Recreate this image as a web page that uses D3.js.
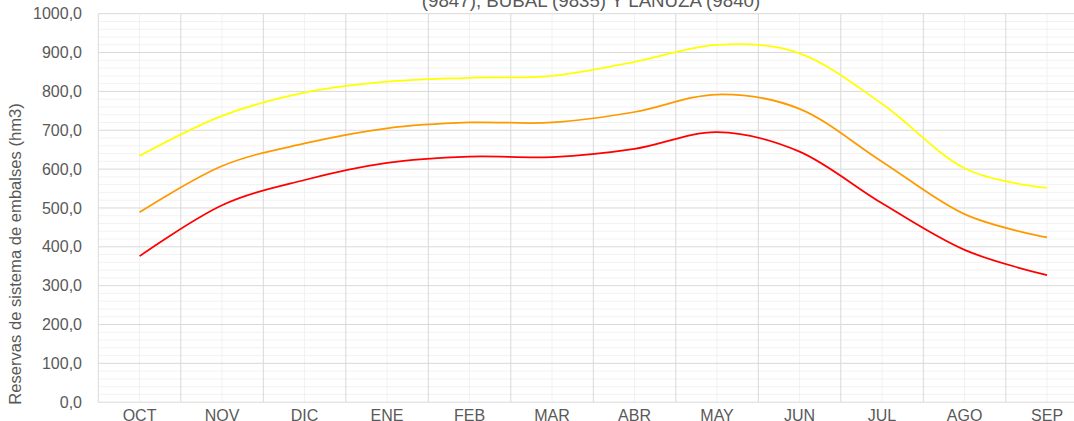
<!DOCTYPE html>
<html>
<head>
<meta charset="utf-8">
<script src="https://cdn.jsdelivr.net/npm/d3@7"></script>
<style>
  body { margin: 0; background: #fff; overflow: hidden; }
  text { font-family: "Liberation Sans", Arial, sans-serif; fill: #595959; }
</style>
</head>
<body>
<div id="chart"></div>
<script>
var meses = ["OCT", "NOV", "DIC", "ENE", "FEB", "MAR", "ABR", "MAY", "JUN", "JUL", "AGO", "SEP"];
var serieAlta = [634, 737, 797, 825, 835, 840, 876, 920, 898, 768, 602, 552];
var serieMedia = [489, 608, 666, 705, 720, 720, 747, 792, 755, 619, 484, 424];
var serieBaja = [376, 507, 572, 616, 632, 631, 652, 695, 645, 512, 392, 327];
var yTicks = [0, 100, 200, 300, 400, 500, 600, 700, 800, 900, 1000];
var tituloVisible = "(9847), BUBAL (9835) Y LANUZA (9840)";
var tituloEje = "Reservas de sistema de embalses (hm3)";

var svgWidth = 1074;
var svgHeight = 421;

var margin = {top: 13.7, left: 98.3};
var plotWidth = 990;
var plotHeight = 388.5;

var svg = d3.select("#chart")
    .append("svg")
    .attr("width", svgWidth)
    .attr("height", svgHeight);

var chartGroup = svg.append("g")
    .attr("transform", `translate(${margin.left}, ${margin.top})`);

var xBand = d3.scaleBand().domain(meses).range([0, plotWidth]);
var yScale = d3.scaleLinear().domain([0, 1000]).range([plotHeight, 0]);

var xCenter = d => xBand(d) + xBand.bandwidth() / 2;

// minor gridlines
var minorY = d3.range(0, 1001, 20).filter(v => v % 100 !== 0);
chartGroup.selectAll(".minorY").data(minorY).enter().append("line")
    .attr("x1", 0).attr("x2", plotWidth)
    .attr("y1", d => yScale(d)).attr("y2", d => yScale(d))
    .attr("stroke", "#f2f2f2").attr("stroke-width", 1);

chartGroup.selectAll(".minorX").data(meses).enter().append("line")
    .attr("x1", d => xCenter(d)).attr("x2", d => xCenter(d))
    .attr("y1", 0).attr("y2", plotHeight)
    .attr("stroke", "#f2f2f2").attr("stroke-width", 1);

// major gridlines
chartGroup.selectAll(".majorY").data(yTicks).enter().append("line")
    .attr("x1", 0).attr("x2", plotWidth)
    .attr("y1", d => yScale(d)).attr("y2", d => yScale(d))
    .attr("stroke", "#d9d9d9").attr("stroke-width", 1);

chartGroup.selectAll(".majorX").data(meses.concat(["_end"])).enter().append("line")
    .attr("x1", (d, i) => i * xBand.step()).attr("x2", (d, i) => i * xBand.step())
    .attr("y1", 0).attr("y2", plotHeight)
    .attr("stroke", "#d9d9d9").attr("stroke-width", 1);

// y tick labels
svg.selectAll(".yLabel").data(yTicks).enter().append("text")
    .attr("x", 82)
    .attr("y", d => margin.top + yScale(d))
    .attr("dy", "0.35em")
    .attr("text-anchor", "end")
    .style("font-size", "16px")
    .text(d => d3.format(".1f")(d).replace(".", ","));

// x tick labels (cut by the bottom edge, as in the original)
svg.selectAll(".xLabel").data(meses).enter().append("text")
    .attr("x", d => margin.left + xCenter(d))
    .attr("y", 420.5)
    .attr("text-anchor", "middle")
    .style("font-size", "16px")
    .text(d => d);

// axis title
svg.append("text")
    .attr("transform", "translate(21,254) rotate(-90)")
    .attr("text-anchor", "middle")
    .style("font-size", "16.6px")
    .text(tituloEje);

// chart title (first line is outside the picture)
svg.append("text")
    .attr("x", 591)
    .attr("y", 7)
    .attr("text-anchor", "middle")
    .style("font-size", "18.7px")
    .text(tituloVisible);

var line = d3.line()
    .x((d, i) => xCenter(meses[i]))
    .y(d => yScale(d))
    .curve(d3.curveCardinal.tension(0));

var series = [
    {values: serieAlta, color: "#ffff00"},
    {values: serieMedia, color: "#ff9900"},
    {values: serieBaja, color: "#ff0000"}
];

chartGroup.selectAll(".serie").data(series).enter().append("path")
    .attr("d", d => line(d.values))
    .attr("fill", "none")
    .attr("stroke", d => d.color)
    .attr("stroke-width", 1.75);
</script>
</body>
</html>
